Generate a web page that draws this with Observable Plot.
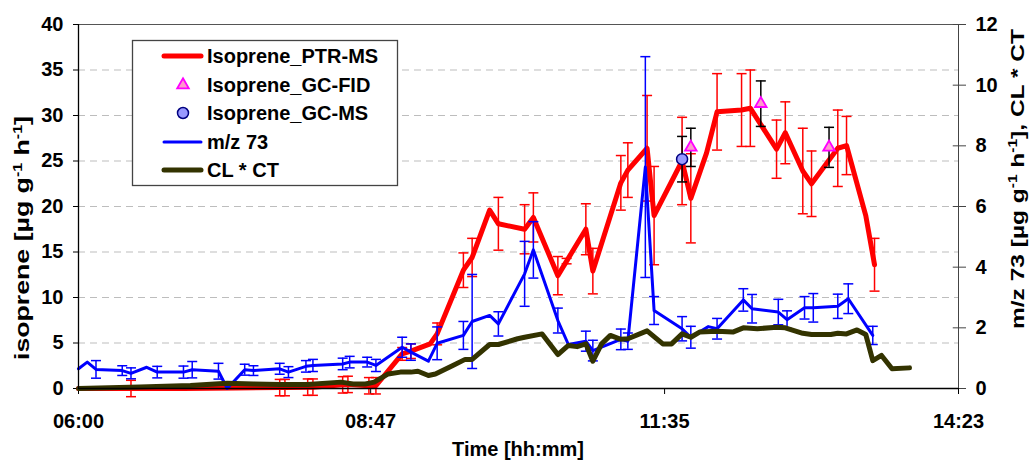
<!DOCTYPE html>
<html><head><meta charset="utf-8">
<script src="https://cdn.jsdelivr.net/npm/d3@7"></script>
<script src="https://cdn.jsdelivr.net/npm/@observablehq/plot@0.6"></script>
<style>
html,body{margin:0;padding:0;background:#fff;}
#chart{width:1030px;height:461px;overflow:hidden;position:relative;}
</style></head><body><div id="chart"></div>
<script>
// ---- tick labels ----
const xTickLabels = ["06:00","08:47","11:35","14:23"];
const yLeftTicks = [0,5,10,15,20,25,30,35,40];
const yGridTicks = [5,10,15,20,25,30,35];
const yRightTicks = [0,2,4,6,8,10,12];

// ---- Isoprene_PTR-MS (left axis) ----
const ptrTimes = ["06:00","06:30","07:00","07:30","07:55","07:58","08:11","08:14","08:31","08:34","08:46","08:50","09:05","09:10","09:21","09:25","09:40","09:45","09:55","10:00","10:15","10:20","10:34","10:39","10:50","10:54","11:10","11:14","11:25","11:29","11:45","11:50","11:59","12:05","12:19","12:24","12:39","12:44","12:54","12:59","13:14","13:19","13:30","13:35"];
const ptrValues = [0.0,0.0,0.0,0.05,0.1,0.1,0.15,0.15,0.4,0.45,0.3,0.3,3.8,4.1,4.9,6.0,13.0,14.4,19.6,18.1,17.5,18.8,12.4,14.0,17.5,12.9,22.6,24.0,26.4,19.0,25.0,20.9,25.9,30.4,30.6,30.8,26.3,28.1,23.9,22.5,26.4,26.7,19.0,13.6];
const ptrErrors = [null,0.9,null,null,0.9,0.9,0.9,0.9,0.9,0.9,0.9,0.9,0.7,0.8,null,1.2,1.9,2.1,null,2.9,2.7,2.7,2.1,0.3,2.8,2.5,3.0,3.0,5.8,5.4,4.8,4.9,null,4.2,4.0,4.2,3.2,3.4,4.7,3.6,4.2,3.2,null,2.9];

// ---- Isoprene_GC-FID (left axis) ----
const fidTimes = ["11:50","12:30","13:09"];
const fidValues = [26.5,31.3,26.5];
const fidErrors = [2.1,2.5,2.2];

// ---- Isoprene_GC-MS (left axis) ----
const gcmsTimes = ["11:45"];
const gcmsValues = [25.2];
const gcmsErrors = [2.5];

// ---- m/z 73 (right axis) ----
const mzTimes = ["06:00","06:05","06:10","06:25","06:30","06:39","06:45","07:00","07:05","07:20","07:25","07:35","07:40","07:55","08:00","08:10","08:14","08:31","08:35","08:45","08:50","09:05","09:10","09:20","09:25","09:40","09:45","09:55","10:00","10:15","10:20","10:34","10:40","10:50","10:54","11:10","11:14","11:24","11:29","11:45","11:50","12:00","12:05","12:20","12:25","12:40","12:45","12:55","13:00","13:14","13:20","13:34"];
const mzValues = [0.65,0.87,0.63,0.59,0.50,0.70,0.54,0.54,0.62,0.57,0.0,0.62,0.59,0.65,0.54,0.73,0.76,0.81,0.87,0.87,0.76,1.36,1.20,0.90,1.49,1.75,2.21,2.41,2.13,3.78,4.57,2.24,1.45,1.56,1.25,1.62,1.56,7.30,2.57,1.97,1.69,2.04,1.97,2.92,2.63,2.52,2.27,2.66,2.66,2.71,2.96,1.75];
const mzErrors = [null,null,0.29,0.16,0.18,null,0.19,0.2,0.27,0.26,null,0.18,0.16,0.18,0.18,0.19,0.2,0.19,0.19,0.16,0.2,0.33,0.27,null,0.54,0.46,1.55,null,0.4,1.07,0.93,0.41,null,0.33,0.34,0.34,0.27,3.64,0.46,0.4,0.36,null,0.34,0.37,0.47,0.42,0.29,0.37,0.47,0.4,0.49,0.3];

// ---- CL * CT (right axis) ----
const clctTimes = ["06:00","06:35","07:04","07:25","07:40","07:55","08:11","08:30","08:37","08:44","08:49","08:57","09:04","09:10","09:14","09:20","09:24","09:34","09:41","09:45","09:55","10:00","10:11","10:15","10:25","10:34","10:40","10:45","10:50","10:54","10:59","11:04","11:10","11:14","11:25","11:34","11:39","11:45","11:50","11:55","12:05","12:14","12:20","12:28","12:39","12:44","12:54","12:59","13:10","13:14","13:19","13:25","13:30","13:34","13:39","13:45","13:55"];
const clctValues = [0.0,0.05,0.1,0.17,0.15,0.13,0.13,0.21,0.15,0.15,0.21,0.48,0.54,0.54,0.57,0.43,0.48,0.76,0.96,0.96,1.45,1.45,1.64,1.69,1.80,1.12,1.42,1.38,1.47,0.90,1.47,1.75,1.62,1.64,1.90,1.47,1.47,1.80,1.69,1.86,1.89,1.86,2.0,1.97,2.02,2.0,1.82,1.78,1.78,1.82,1.80,1.93,1.78,0.92,1.09,0.65,0.68];

// ---- legend ----
const legendLabels = ["Isoprene_PTR-MS","Isoprene_GC-FID","Isoprene_GC-MS","m/z 73","CL * CT"];

// ---- helpers ----
const t0 = 6*60;
const toMin = s => { const [h,m] = s.split(":").map(Number); return h*60 + m - t0; };
const k = 40/12; // right axis units -> left axis units
const mk = (times, vals, errs, scale=1) => times.map((t,i) => ({t: toMin(t), v: vals[i]*scale, e: errs && errs[i] != null ? errs[i]*scale : null}));

const ptr = mk(ptrTimes, ptrValues, ptrErrors);
const fid = mk(fidTimes, fidValues, fidErrors);
const gcms = mk(gcmsTimes, gcmsValues, gcmsErrors);
const mz = mk(mzTimes, mzValues, mzErrors, k);
const clct = mk(clctTimes, clctValues, null, k);

const xTicks = xTickLabels.map(toMin);
const xLabelOf = new Map(xTicks.map((m,i) => [m, xTickLabels[i]]));
const xMax = xTicks[xTicks.length-1];

const cap = {draw(ctx, size){ const w = Math.sqrt(size/Math.PI); ctx.moveTo(-w,0); ctx.lineTo(w,0); }};

function errMarks(data, color, sw=1.5) {
  const d = data.filter(p => p.e != null);
  return [
    Plot.ruleX(d, {x:"t", y1: p => p.v - p.e, y2: p => p.v + p.e, stroke: color, strokeWidth: sw}),
    Plot.dot(d, {x:"t", y: p => p.v + p.e, symbol: cap, r: 5, stroke: color, strokeWidth: sw, fill: "none"}),
    Plot.dot(d, {x:"t", y: p => p.v - p.e, symbol: cap, r: 5, stroke: color, strokeWidth: sw, fill: "none"})
  ];
}

const RED = "#ff0000", BLUE = "#0000ff", OLIVE = "#333300";

const svg = Plot.plot({
  width: 1030, height: 461,
  marginLeft: 78, marginRight: 72, marginTop: 24, marginBottom: 73,
  style: {fontFamily: "'Liberation Sans', Arial, sans-serif", fontSize: "20px", fontWeight: "bold", color: "black", background: "white"},
  x: {domain: [0, xMax], label: null},
  y: {domain: [0, 40], label: null},
  marks: [
    Plot.gridY(yGridTicks, {stroke: "#bdbdbd", strokeOpacity: 1, strokeDasharray: "7,5"}),
    Plot.ruleY([40], {stroke: "#555"}),
    Plot.ruleX([xMax], {stroke: "#444"}),
    Plot.ruleY(yRightTicks.map(v => v*k), {x1: xMax - 3, x2: xMax, stroke: "#444"}),
    Plot.axisY(yLeftTicks, {anchor: "left", tickSize: 5, tickPadding: 10, label: null}),
    Plot.axisY(yRightTicks.map(v => v*k), {anchor: "right", tickSize: 7, tickPadding: 10, label: null, tickFormat: d => String(Math.round(d/k)), stroke: "#444"}),
    Plot.axisX(xTicks, {anchor: "bottom", tickSize: 6, tickPadding: 19, label: null, tickFormat: d => xLabelOf.get(d)}),
    // PTR-MS
    ...errMarks(ptr, RED),
    Plot.line(ptr, {x: "t", y: "v", stroke: RED, strokeWidth: 5}),
    // GC points
    ...errMarks(fid, "#000"),
    ...errMarks(gcms, "#000"),
    Plot.dot(gcms, {x: "t", y: "v", r: 5.5, fill: "#9999ff", stroke: "#000080", strokeWidth: 1.5}),
    Plot.dot(fid, {x: "t", y: "v", symbol: "triangle", r: 4.3, fill: "#ff99cc", stroke: "#ff00ff", strokeWidth: 1.8}),
    // m/z 73
    ...errMarks(mz, BLUE),
    Plot.line(mz, {x: "t", y: "v", stroke: BLUE, strokeWidth: 3}),
    // CL*CT
    Plot.line(clct, {x: "t", y: "v", stroke: OLIVE, strokeWidth: 5}),
    Plot.ruleY([0], {stroke: "#000", strokeWidth: 1.3}),
    Plot.ruleX([0], {stroke: "#000", strokeWidth: 1.3})
  ]
});
document.getElementById("chart").appendChild(svg);

const S = d3.select(svg);
const font = "'Liberation Sans', Arial, sans-serif";

// axis titles
function sup(t, s) { t.append("tspan").attr("baseline-shift", "super").attr("font-size", 12).text(s); }
const lt = S.append("text").attr("transform", "translate(29,238) rotate(-90)")
  .attr("text-anchor", "middle").attr("font-family", font).attr("font-size", 20).attr("font-weight", "bold").attr("fill", "#000");
lt.append("tspan").text("isoprene [µg g"); sup(lt, "-1"); lt.append("tspan").text(" h"); sup(lt, "-1"); lt.append("tspan").text("]");
lt.attr("textLength", 244).attr("lengthAdjust", "spacingAndGlyphs");

const rt = S.append("text").attr("transform", "translate(1024,179) rotate(-90)")
  .attr("text-anchor", "middle").attr("font-family", font).attr("font-size", 19).attr("font-weight", "bold").attr("fill", "#000");
rt.append("tspan").text("m/z 73 [µg g"); sup(rt, "-1"); rt.append("tspan").text(" h"); sup(rt, "-1"); rt.append("tspan").text("], CL * CT");
rt.attr("textLength", 300).attr("lengthAdjust", "spacingAndGlyphs");

S.append("text").attr("x", 518).attr("y", 456).attr("text-anchor", "middle")
  .attr("font-family", font).attr("font-size", 20).attr("font-weight", "bold").text("Time [hh:mm]");

// legend
const lg = S.append("g");
lg.append("rect").attr("x", 132.5).attr("y", 40.5).attr("width", 265).attr("height", 145)
  .attr("fill", "#fff").attr("stroke", "#444").attr("stroke-width", 1.3);
const rowY = [56, 85, 113, 142, 170];
const legendStroke = [RED, null, null, BLUE, OLIVE];
legendLabels.forEach((lab, i) => {
  const y = rowY[i];
  if (legendStroke[i]) {
    lg.append("line").attr("x1", 164).attr("x2", 201).attr("y1", y).attr("y2", y)
      .attr("stroke", legendStroke[i]).attr("stroke-width", i === 3 ? 3 : 5).attr("stroke-linecap", "round");
  } else if (i === 1) {
    lg.append("path").attr("d", d3.symbol(d3.symbolTriangle, Math.PI*4.3*4.3)()).attr("transform", `translate(183,${y})`)
      .attr("fill", "#ff99cc").attr("stroke", "#ff00ff").attr("stroke-width", 1.8);
  } else {
    lg.append("circle").attr("cx", 183).attr("cy", y).attr("r", 5.5).attr("fill", "#9999ff").attr("stroke", "#000080").attr("stroke-width", 1.5);
  }
  lg.append("text").attr("x", 207).attr("y", y + 7).attr("text-anchor", "start").attr("font-family", font).attr("font-size", 20).attr("font-weight", "bold").text(lab);
});
</script></body></html>
